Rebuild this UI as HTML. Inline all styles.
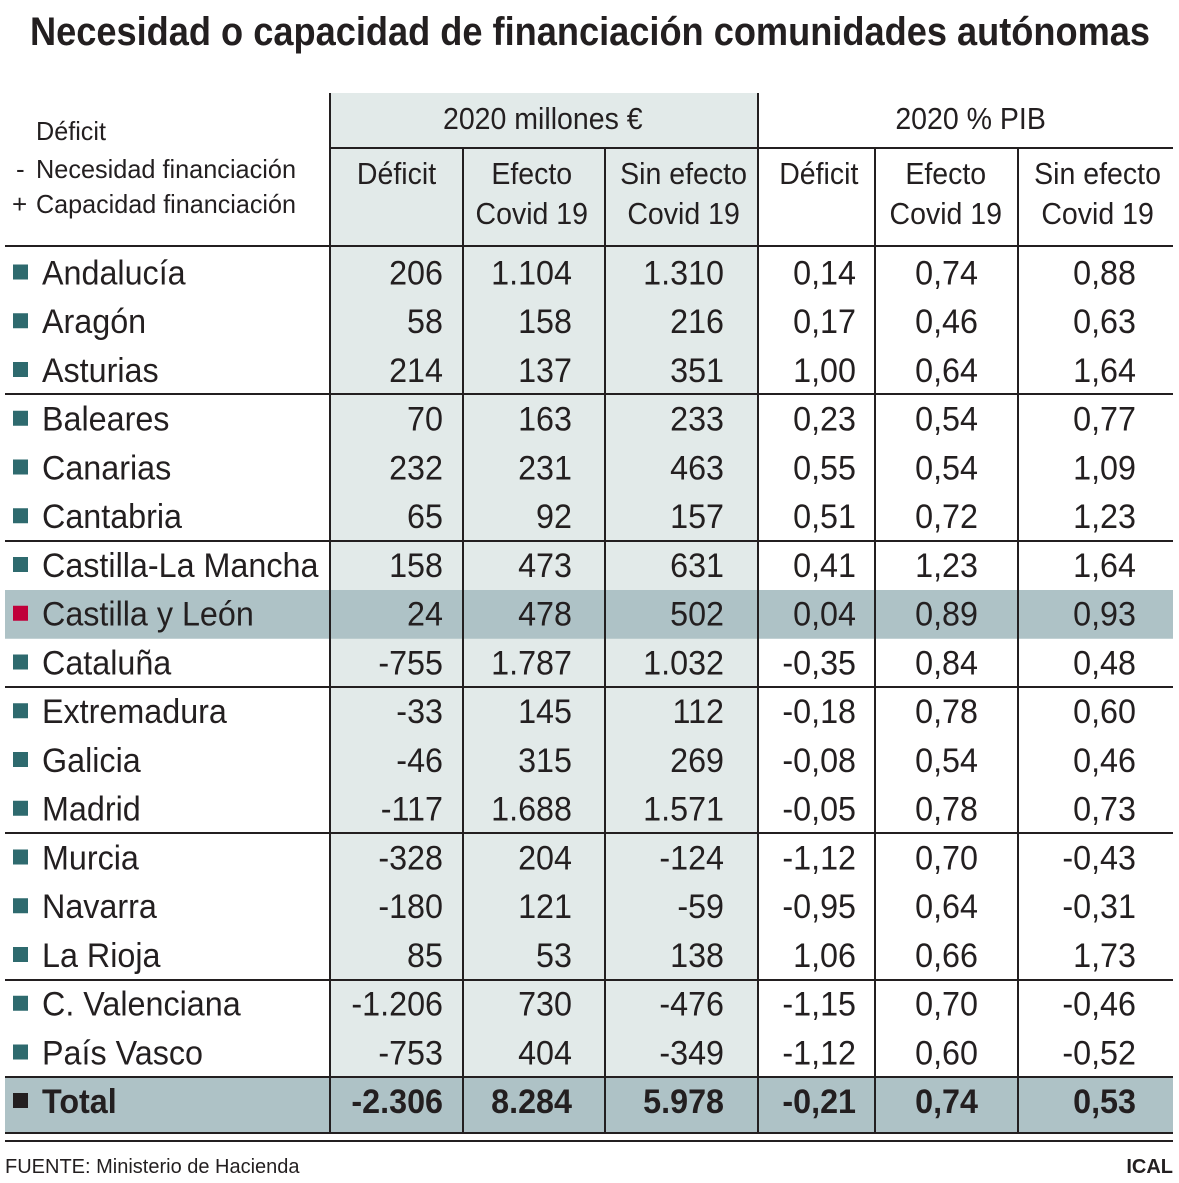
<!DOCTYPE html>
<html><head><meta charset="utf-8"><style>
body{margin:0;background:#fff}
svg{display:block;font-family:"Liberation Sans",sans-serif;fill:#231f20}
</style></head><body>
<svg width="1179" height="1183" viewBox="0 0 1179 1183" xmlns="http://www.w3.org/2000/svg">
<rect x="0" y="0" width="1179" height="1183" fill="#fff"/>
<text x="30" y="45" font-size="40" font-weight="bold" textLength="1120" lengthAdjust="spacingAndGlyphs">Necesidad o capacidad de financiación comunidades autónomas</text>
<rect x="330" y="93" width="428" height="984" fill="#e2eae9"/>
<rect x="5" y="590" width="1168" height="48.75" fill="#aec2c6"/>
<rect x="5" y="1077" width="1168" height="56" fill="#aec2c6"/>
<g stroke="#231f20" stroke-width="2">
<line x1="330" y1="93" x2="330" y2="1133"/>
<line x1="758" y1="93" x2="758" y2="1133"/>
<line x1="463" y1="148" x2="463" y2="1133"/>
<line x1="605" y1="148" x2="605" y2="1133"/>
<line x1="875" y1="148" x2="875" y2="1133"/>
<line x1="1018" y1="148" x2="1018" y2="1133"/>
<line x1="330" y1="148" x2="1173" y2="148"/>
<line x1="5" y1="246" x2="1173" y2="246"/>
<line x1="5" y1="394" x2="1173" y2="394"/>
<line x1="5" y1="541" x2="1173" y2="541"/>
<line x1="5" y1="687" x2="1173" y2="687"/>
<line x1="5" y1="833" x2="1173" y2="833"/>
<line x1="5" y1="980" x2="1173" y2="980"/>
<line x1="5" y1="1077" x2="1173" y2="1077"/>
<line x1="5" y1="1133" x2="1173" y2="1133"/>
<line x1="5" y1="1141" x2="1173" y2="1141"/>
</g>
<g font-size="26">
<text x="36" y="140" textLength="70" lengthAdjust="spacingAndGlyphs">Déficit</text>
<text x="16" y="178">-</text>
<text x="36" y="178" textLength="260" lengthAdjust="spacingAndGlyphs">Necesidad financiación</text>
<text x="12" y="213">+</text>
<text x="36" y="213" textLength="260" lengthAdjust="spacingAndGlyphs">Capacidad financiación</text>
</g>
<g font-size="31" text-anchor="middle" transform="scale(0.92,1)">
<text x="590" y="129">2020 millones €</text>
<text x="1055" y="129">2020 % PIB</text>
<text x="431" y="184">Déficit</text>
<text x="578" y="184">Efecto</text><text x="578" y="224">Covid 19</text>
<text x="743" y="184">Sin efecto</text><text x="743" y="224">Covid 19</text>
<text x="890" y="184">Déficit</text>
<text x="1028" y="184">Efecto</text><text x="1028" y="224">Covid 19</text>
<text x="1193" y="184">Sin efecto</text><text x="1193" y="224">Covid 19</text>
</g>
<g id="rows"></g>
<text x="5" y="1173" font-size="20">FUENTE: Ministerio de Hacienda</text>
<text x="1173" y="1173" font-size="20" font-weight="bold" text-anchor="end">ICAL</text>
</svg>
<script>
var d=[["Andalucía","206","1.104","1.310","0,14","0,74","0,88"],
["Aragón","58","158","216","0,17","0,46","0,63"],
["Asturias","214","137","351","1,00","0,64","1,64"],
["Baleares","70","163","233","0,23","0,54","0,77"],
["Canarias","232","231","463","0,55","0,54","1,09"],
["Cantabria","65","92","157","0,51","0,72","1,23"],
["Castilla-La Mancha","158","473","631","0,41","1,23","1,64"],
["Castilla y León","24","478","502","0,04","0,89","0,93"],
["Cataluña","-755","1.787","1.032","-0,35","0,84","0,48"],
["Extremadura","-33","145","112","-0,18","0,78","0,60"],
["Galicia","-46","315","269","-0,08","0,54","0,46"],
["Madrid","-117","1.688","1.571","-0,05","0,78","0,73"],
["Murcia","-328","204","-124","-1,12","0,70","-0,43"],
["Navarra","-180","121","-59","-0,95","0,64","-0,31"],
["La Rioja","85","53","138","1,06","0,66","1,73"],
["C. Valenciana","-1.206","730","-476","-1,15","0,70","-0,46"],
["País Vasco","-753","404","-349","-1,12","0,60","-0,52"],
["Total","-2.306","8.284","5.978","-0,21","0,74","0,53"]];
var rx=[443,572,724,856,978,1136],s="",k=0.95;
d.forEach(function(r,i){
 var top=248+48.75*i,c=top+24.5,tot=i==17;if(tot)c=1101;
 var col=i==7?"#c0003a":(tot?"#231f20":"#2e6a6e");
 s+='<rect x="13" y="'+(c-8)+'" width="15" height="15" fill="'+col+'"/>';
 var fw=tot?' font-weight="bold"':'';
 s+='<g transform="scale('+k+',1)" font-size="34"'+fw+'>';
 s+='<text x="'+(42/k)+'" y="'+(c+12)+'">'+r[0]+'</text>';
 for(var j=1;j<7;j++)s+='<text text-anchor="end" x="'+(rx[j-1]/k)+'" y="'+(c+12)+'">'+r[j]+'</text>';
 s+='</g>';
});
document.getElementById("rows").innerHTML=s;
</script>
</body></html>
